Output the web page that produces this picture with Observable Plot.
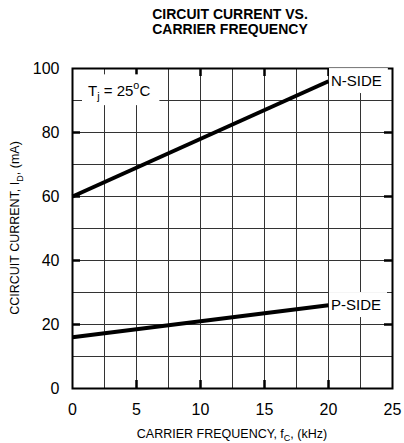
<!DOCTYPE html>
<html><head><meta charset="utf-8">
<script src="https://cdn.jsdelivr.net/npm/d3@7"></script>
<script src="https://cdn.jsdelivr.net/npm/@observablehq/plot@0.6"></script>
<style>
body{margin:0;background:#fff;font-family:"Liberation Sans",Arial,sans-serif;}
#title{height:50px;box-sizing:border-box;padding-top:7px;margin-left:70px;width:320px;text-align:center;font-weight:bold;font-size:14px;line-height:15px;color:#000;}
#chart svg{display:block;}
</style></head><body>
<div id="title">CIRCUIT CURRENT VS.<br>CARRIER FREQUENCY</div>
<div id="chart"></div>
<script>
// ---- data ----
const freqKHz = [0, 20];
const nSideMA = [60, 96];
const pSideMA = [16, 26];
const xTicks = [0, 5, 10, 15, 20, 25];
const yTicks = [0, 20, 40, 60, 80, 100];
const xGrid = [2.5, 5, 7.5, 10, 12.5, 15, 17.5, 20, 22.5];
const yGrid = [10, 20, 30, 40, 50, 60, 70, 80, 90];
const xMajor = [5, 10, 15, 20];
const yMajor = [20, 40, 60, 80];
const seriesNames = ["N-SIDE", "P-SIDE"];
const xLabelParts = [["CARRIER FREQUENCY, f", ""], ["C", "sub"], [", (kHz)", ""]];
const yLabelParts = [["CCIRCUIT CURRENT, I", ""], ["D", "sub"], [", (mA)", ""]];
const condParts = [["T", ""], ["j", "sub"], [" = 25", ""], ["o", "sup"], ["C", ""]];
const condPos = {f: 1.25, i: 93};

const nData = freqKHz.map((f, k) => ({f, i: nSideMA[k]}));
const pData = freqKHz.map((f, k) => ({f, i: pSideMA[k]}));

const W = 404, H = 393, mL = 72, mR = 12, mT = 18, mB = 55;
const kx = 25 / (W - mL - mR), ky = 100 / (H - mT - mB);
const tickLen = 8;
const font = '"Liberation Sans", Arial, sans-serif';

const plot = Plot.plot({
  width: W, height: H,
  marginLeft: mL, marginRight: mR, marginTop: mT, marginBottom: mB,
  style: {fontFamily: font, background: "white", color: "#000"},
  x: {domain: [0, 25]},
  y: {domain: [0, 100]},
  marks: [
    Plot.ruleX(xGrid, {stroke: "#333", strokeWidth: 1}),
    Plot.ruleY(yGrid, {stroke: "#333", strokeWidth: 1}),
    Plot.ruleX(xMajor, {y1: 0, y2: tickLen * ky, stroke: "#000", strokeWidth: 2.5}),
    Plot.ruleX(xMajor, {y1: 100 - tickLen * ky, y2: 100, stroke: "#000", strokeWidth: 2.5}),
    Plot.ruleY(yMajor, {x1: 0, x2: tickLen * kx, stroke: "#000", strokeWidth: 2.5}),
    Plot.ruleY(yMajor, {x1: 25 - tickLen * kx, x2: 25, stroke: "#000", strokeWidth: 2.5}),
    Plot.frame({stroke: "#000", strokeWidth: 2}),
    Plot.line(nData, {x: "f", y: "i", stroke: "#000", strokeWidth: 4, strokeLinecap: "butt"}),
    Plot.line(pData, {x: "f", y: "i", stroke: "#000", strokeWidth: 4, strokeLinecap: "butt"}),
    Plot.axisX({ticks: xTicks, tickSize: 0, tickPadding: 15, fontSize: 16, label: null, tickFormat: d => String(d)}),
    Plot.axisY({ticks: yTicks, tickSize: 0, tickPadding: 13, fontSize: 16, label: null, tickFormat: d => String(d)})
  ]
});
document.getElementById("chart").appendChild(plot);

const svg = d3.select(plot);
const sx = plot.scale("x"), sy = plot.scale("y");

function addText(g, parts, x, y, size, anchor) {
  const t = g.append("text").attr("x", x).attr("y", y)
    .attr("font-size", size).attr("text-anchor", anchor)
    .attr("font-family", font).attr("fill", "#000");
  let off = 0;
  parts.forEach(([s, k]) => {
    const target = k === "sub" ? size * 0.3 : k === "sup" ? -size * 0.42 : 0;
    t.append("tspan").attr("dy", target - off)
      .attr("font-size", k ? size * 0.72 : size).text(s);
    off = target;
  });
  return t;
}
function boxedLabel(parts, x, yCenter, size, anchor, pad) {
  const g = svg.append("g");
  const rect = g.append("rect").attr("fill", "white");
  const t = addText(g, parts, x, yCenter + size * 0.35, size, anchor);
  const b = t.node().getBBox();
  rect.attr("x", b.x - pad[3]).attr("y", b.y - pad[0])
    .attr("width", b.width + pad[1] + pad[3]).attr("height", b.height + pad[0] + pad[2]);
}

// series labels at line ends
boxedLabel([[seriesNames[0], ""]], sx.apply(freqKHz[1]) + 3, sy.apply(nSideMA[1]), 15, "start", [4, 6, 4, 2]);
boxedLabel([[seriesNames[1], ""]], sx.apply(freqKHz[1]) + 3, sy.apply(pSideMA[1]), 15, "start", [4, 6, 4, 2]);
// condition label
boxedLabel(condParts, sx.apply(condPos.f), sy.apply(condPos.i), 15, "start", [5, 9, 3, 6]);

// axis titles
const axG = svg.append("g");
addText(axG, xLabelParts, (sx.apply(0) + sx.apply(25)) / 2, H - 5.5, 12.5, "middle");
const yg = axG.append("g").attr("transform", `translate(19,${(sy.apply(0) + sy.apply(100)) / 2}) rotate(-90)`);
addText(yg, yLabelParts, 0, 0, 12.5, "middle");
</script>
</body></html>
